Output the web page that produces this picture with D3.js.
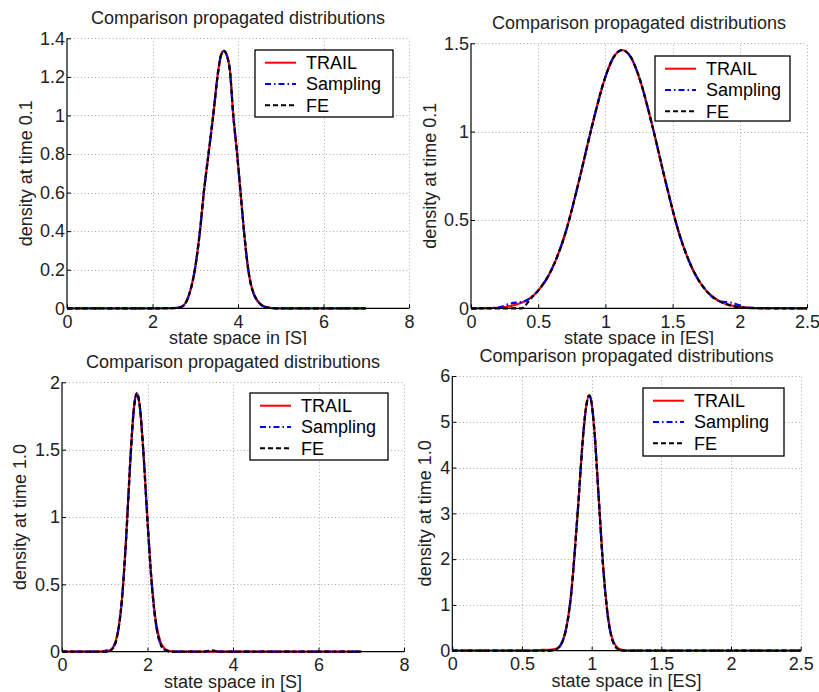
<!DOCTYPE html>
<html>
<head>
<meta charset="utf-8">
<script src="https://cdn.jsdelivr.net/npm/d3@7"></script>
<style>
  body { margin: 0; background: #fff; }
  svg { display: block; font-family: "Liberation Sans", Arial, sans-serif; }
</style>
</head>
<body>
<div id="container"></div>
<script>
// ---- data ----
var seriesNames = ["TRAIL", "Sampling", "FE"]
var titleText = "Comparison propagated distributions"

// panel 1: S at time 0.1
var p1X = [0, 1, 2, 2.5, 2.68, 2.84, 2.99, 3.11, 3.2, 3.31, 3.42, 3.54, 3.6, 3.67, 3.74, 3.81, 3.89, 3.98, 4.06, 4.14, 4.24, 4.4, 4.63, 4.8, 5, 6, 7]
var p1Trail    = [0, 0, 0, 0.001, 0.008, 0.06, 0.2, 0.4, 0.6, 0.8, 1.0, 1.235, 1.31, 1.335, 1.31, 1.235, 1.0, 0.8, 0.6, 0.4, 0.2, 0.06, 0.008, 0.001, 0, 0, 0]
var p1Sampling = [0, 0, 0, 0.001, 0.008, 0.06, 0.2, 0.4, 0.6, 0.8, 1.0, 1.235, 1.31, 1.335, 1.31, 1.235, 1.0, 0.8, 0.6, 0.4, 0.2, 0.058, 0.007, 0.001, 0, 0, 0]
var p1FE       = [0, 0, 0, 0.001, 0.008, 0.06, 0.2, 0.4, 0.6, 0.8, 1.0, 1.235, 1.31, 1.335, 1.31, 1.235, 1.0, 0.8, 0.6, 0.4, 0.2, 0.06, 0.008, 0.001, 0, 0, 0]
var p1XTicks = [0, 2, 4, 6, 8]
var p1YTicks = [0, 0.2, 0.4, 0.6, 0.8, 1, 1.2, 1.4]

// panel 2: ES at time 0.1
var p2X = [0, 0.1, 0.2, 0.3, 0.38, 0.4, 0.44, 0.5, 0.6, 0.7, 0.8, 0.9, 1.0, 1.06, 1.125, 1.19, 1.25, 1.35, 1.45, 1.55, 1.65, 1.75, 1.85, 1.95, 2.05, 2.2, 2.5]
var p2Trail    = [0, 0.0003, 0.003, 0.014, 0.033, 0.04, 0.058, 0.1, 0.22, 0.42, 0.71, 1.03, 1.31, 1.42, 1.462, 1.42, 1.31, 1.03, 0.71, 0.42, 0.22, 0.1, 0.04, 0.014, 0.004, 0.0005, 0]
var p2Sampling = [0, 0.0003, 0.004, 0.028, 0.036, 0.04, 0.058, 0.1, 0.22, 0.42, 0.71, 1.03, 1.31, 1.42, 1.462, 1.42, 1.31, 1.03, 0.71, 0.42, 0.22, 0.1, 0.04, 0.03, 0.004, 0.0005, 0]
var p2FE       = [0, 0, 0, 0, 0, 0.012, 0.05, 0.1, 0.22, 0.42, 0.71, 1.03, 1.31, 1.42, 1.462, 1.42, 1.31, 1.03, 0.71, 0.42, 0.22, 0.1, 0.04, 0.012, 0.002, 0, 0]
var p2XTicks = [0, 0.5, 1, 1.5, 2, 2.5]
var p2YTicks = [0, 0.5, 1, 1.5]

// panel 3: S at time 1.0
var p3X = [0, 0.5, 0.9, 1.0, 1.05, 1.1, 1.2, 1.3, 1.4, 1.5, 1.6, 1.68, 1.75, 1.82, 1.9, 2.0, 2.1, 2.2, 2.3, 2.4, 2.5, 2.6, 2.8, 3.3, 3.5, 3.7, 4, 5, 6, 7]
var p3Trail    = [0, 0, 0.001, 0.006, 0.012, 0.007, 0.036, 0.134, 0.38, 0.844, 1.427, 1.8, 1.918, 1.82, 1.504, 0.976, 0.51, 0.215, 0.075, 0.024, 0.007, 0.001, 0, 0, 0, 0, 0, 0, 0, 0]
var p3Sampling = [0, 0, 0, 0, 0.002, 0.005, 0.03, 0.13, 0.38, 0.84, 1.43, 1.8, 1.918, 1.82, 1.5, 0.97, 0.5, 0.2, 0.06, 0.015, 0.003, 0, 0, 0, 0.004, 0, 0, 0, 0, 0]
var p3FE       = [0, 0, 0, 0, 0.002, 0.005, 0.03, 0.13, 0.38, 0.84, 1.43, 1.8, 1.918, 1.82, 1.5, 0.97, 0.5, 0.2, 0.06, 0.015, 0.003, 0, 0, 0, 0.01, 0, 0, 0, 0, 0]
var p3XTicks = [0, 2, 4, 6, 8]
var p3YTicks = [0, 0.5, 1, 1.5, 2]

// panel 4: ES at time 1.0
var p4X = [0, 0.5, 0.6, 0.65, 0.7, 0.75, 0.8, 0.85, 0.9, 0.94, 0.96, 0.983, 1.0, 1.02, 1.05, 1.08, 1.11, 1.15, 1.2, 1.25, 1.3, 1.5, 2, 2.5]
var p4Trail    = [0, 0, 0.003, 0.02, 0.02, 0.045, 0.284, 1.16, 3.03, 4.74, 5.32, 5.58, 5.4, 4.79, 3.38, 1.96, 0.925, 0.25, 0.035, 0.004, 0, 0, 0, 0]
var p4Sampling = [0, 0, 0, 0, 0.003, 0.04, 0.28, 1.16, 3.03, 4.74, 5.32, 5.58, 5.4, 4.79, 3.36, 1.93, 0.9, 0.22, 0.015, 0, 0, 0, 0, 0]
var p4FE       = [0, 0, 0, 0, 0.003, 0.04, 0.28, 1.16, 3.03, 4.74, 5.32, 5.58, 5.4, 4.79, 3.36, 1.93, 0.9, 0.22, 0.015, 0, 0, 0, 0, 0]
var p4XTicks = [0, 0.5, 1, 1.5, 2, 2.5]
var p4YTicks = [0, 1, 2, 3, 4, 5, 6]

var width = 819
var height = 692

var lineStyles = [
  { color: "#ff0000", dash: null },
  { color: "#0000ff", dash: "6,3,1.5,3" },
  { color: "#000000", dash: "5,3" }
]

var panels = [
  { x: p1X, ys: [p1Trail, p1Sampling, p1FE], xTicks: p1XTicks, yTicks: p1YTicks,
    xMax: 8, yMax: 1.4, xLabel: "state space in [S]", yLabel: "density at time 0.1",
    box: [67, 409, 38.3, 308.3], yLabX: 31.6, leg: [255, 50, 138, 67], row: 0 },
  { x: p2X, ys: [p2Trail, p2Sampling, p2FE], xTicks: p2XTicks, yTicks: p2YTicks,
    xMax: 2.5, yMax: 1.5, xLabel: "state space in [ES]", yLabel: "density at time 0.1",
    box: [471, 807, 43.3, 308.3], yLabX: 436.3, leg: [655, 56, 135, 65], row: 0 },
  { x: p3X, ys: [p3Trail, p3Sampling, p3FE], xTicks: p3XTicks, yTicks: p3YTicks,
    xMax: 8, yMax: 2, xLabel: "state space in [S]", yLabel: "density at time 1.0",
    box: [62, 404, 382.3, 651.7], yLabX: 26.3, leg: [250, 393, 138, 67], row: 1 },
  { x: p4X, ys: [p4Trail, p4Sampling, p4FE], xTicks: p4XTicks, yTicks: p4YTicks,
    xMax: 2.5, yMax: 6, xLabel: "state space in [ES]", yLabel: "density at time 1.0",
    box: [452.3, 800.7, 376, 650.7], yLabX: 431.3, leg: [643, 388, 141, 68], row: 1 }
]

var svg = d3.select("#container").append("svg")
  .attr("width", width)
  .attr("height", height)

// top row image is cut where the bottom row starts
svg.append("defs").append("clipPath").attr("id", "topClip")
  .append("rect").attr("x", 0).attr("y", 0).attr("width", width).attr("height", 345)

var fmt = function (v) { return String(v) }

panels.forEach(function (p) {
  var L = p.box[0], R = p.box[1], T = p.box[2], B = p.box[3]
  var g = svg.append("g")
  if (p.row === 0) g.attr("clip-path", "url(#topClip)")

  var x = d3.scaleLinear().domain([0, p.xMax]).range([L, R])
  var y = d3.scaleLinear().domain([0, p.yMax]).range([B, T])

  // dotted grid
  var grid = g.append("g").attr("stroke", "#a8a8a8").attr("stroke-width", 1).attr("stroke-dasharray", "1,2.5")
  grid.selectAll(".gx").data(p.xTicks.filter(function (d) { return d > 0 })).enter().append("line")
    .attr("x1", function (d) { return Math.round(x(d)) + 0.5 }).attr("x2", function (d) { return Math.round(x(d)) + 0.5 })
    .attr("y1", B).attr("y2", T)
  grid.selectAll(".gy").data(p.yTicks.filter(function (d) { return d > 0 })).enter().append("line")
    .attr("y1", function (d) { return Math.round(y(d)) + 0.5 }).attr("y2", function (d) { return Math.round(y(d)) + 0.5 })
    .attr("x1", L).attr("x2", R)

  // curves: TRAIL, then Sampling, then FE on top
  var line = d3.line()
    .x(function (d) { return x(d[0]) })
    .y(function (d) { return y(d[1]) })
    .curve(d3.curveMonotoneX)
  p.ys.forEach(function (ys, i) {
    g.append("path")
      .datum(d3.zip(p.x, ys))
      .attr("fill", "none")
      .attr("stroke", lineStyles[i].color)
      .attr("stroke-width", 2.2)
      .attr("stroke-dasharray", lineStyles[i].dash)
      .attr("d", line)
  })

  // axes (inward ticks, no box)
  var xAxis = d3.axisBottom(x).tickValues(p.xTicks).tickSize(-4).tickPadding(7).tickFormat(fmt)
  var yAxis = d3.axisLeft(y).tickValues(p.yTicks).tickSize(-4).tickPadding(2).tickFormat(fmt)
  var ax = g.append("g").attr("transform", "translate(0," + B + ")").call(xAxis)
  var ay = g.append("g").attr("transform", "translate(" + L + ",0)").call(yAxis)
  ;[ax, ay].forEach(function (a) {
    a.selectAll("path").attr("stroke", "#000").attr("stroke-width", 1.2)
    a.selectAll("line").attr("stroke", "#000")
    a.selectAll("text").attr("fill", "#222").style("font-size", "18px").style("font-family", "Liberation Sans, Arial, sans-serif")
  })
  ax.select(".domain").attr("d", "M" + L + ",0H" + R)
  ay.select(".domain").attr("d", "M0," + B + "V" + T)

  // title and labels
  g.append("text")
    .attr("x", (L + R) / 2).attr("y", T - 14)
    .attr("text-anchor", "middle").attr("font-size", 18).attr("fill", "#222")
    .text(titleText)
  g.append("text")
    .attr("x", (L + R) / 2).attr("y", B + 36)
    .attr("text-anchor", "middle").attr("font-size", 18).attr("fill", "#222")
    .text(p.xLabel)
  g.append("text")
    .attr("transform", "translate(" + p.yLabX + "," + ((T + B) / 2) + ") rotate(-90)")
    .attr("text-anchor", "middle").attr("font-size", 18).attr("fill", "#222")
    .text(p.yLabel)

  // legend
  var lg = g.append("g").attr("transform", "translate(" + p.leg[0] + "," + p.leg[1] + ")")
  lg.append("rect").attr("width", p.leg[2]).attr("height", p.leg[3])
    .attr("fill", "#fff").attr("stroke", "#000").attr("stroke-width", 1.3)
  seriesNames.forEach(function (name, i) {
    var ry = 12.7 + i * 21.3
    lg.append("line").attr("x1", 10).attr("x2", 41).attr("y1", ry).attr("y2", ry)
      .attr("stroke", lineStyles[i].color).attr("stroke-width", 2)
      .attr("stroke-dasharray", lineStyles[i].dash)
    lg.append("text").attr("x", 51).attr("y", ry).attr("dy", "0.35em")
      .attr("font-size", 18).attr("fill", "#000").text(name)
  })
})
</script>
</body>
</html>
